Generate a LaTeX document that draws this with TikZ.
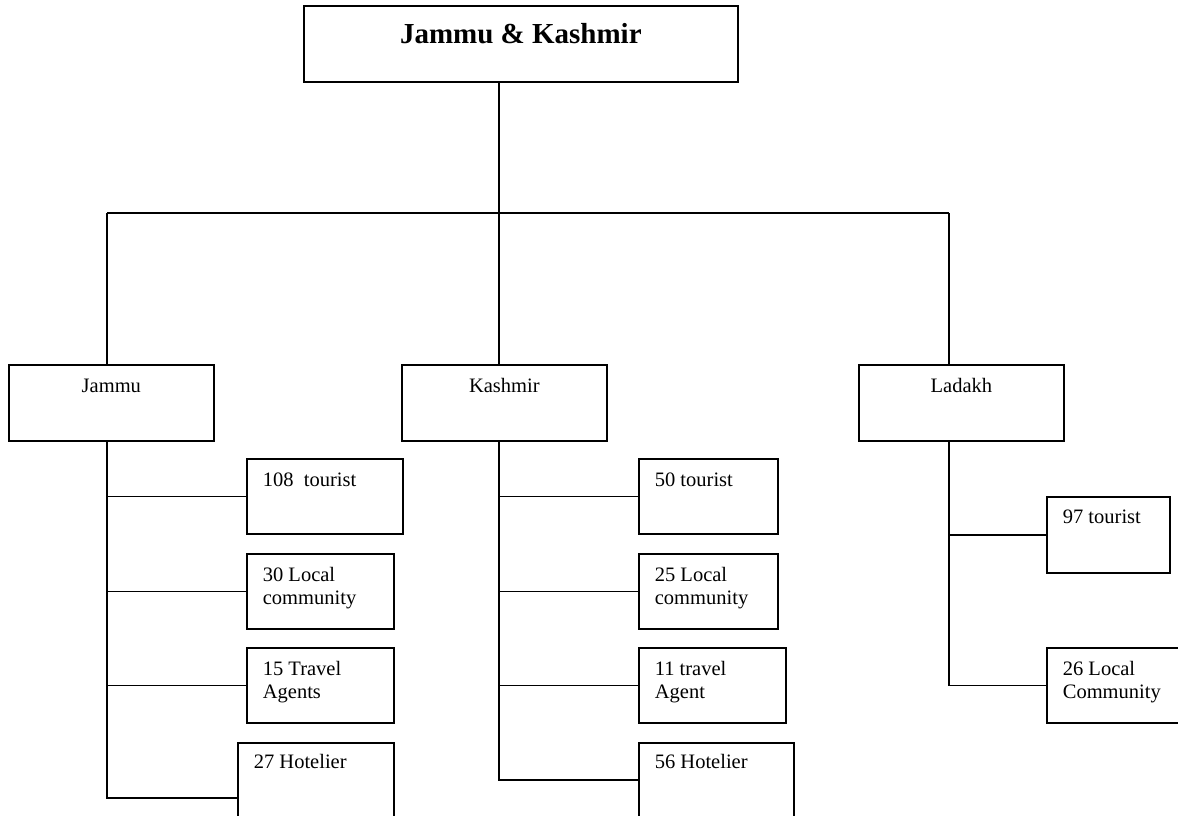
\documentclass[tikz,border=0pt]{standalone}
\usepackage{fontspec}
\setmainfont{Liberation Serif}
\usetikzlibrary{calc}
\begin{document}
\begin{tikzpicture}[x=1pt,y=-1pt,line width=1.7pt,
  frame/.style={draw,rectangle,inner sep=0pt,anchor=north west},
  txt/.style={anchor=base west,inner sep=0pt,font=\fontsize{20.5}{23}\selectfont},
  ctxt/.style={anchor=base,inner sep=0pt,font=\fontsize{20.5}{23}\selectfont},
  ttxt/.style={anchor=base,inner sep=0pt,font=\fontsize{29}{34}\selectfont\bfseries}]
\useasboundingbox (0,0) rectangle (1178,815);
\clip (0,0) rectangle (1178,815);
% top
\node[frame,minimum width=434pt,minimum height=76pt] (top) at (303,5) {};
\node[ttxt] (toptext) at ($(top.north)+(0,38)$) {Jammu \& Kashmir};
% level 1
\node[frame,minimum width=205pt,minimum height=76pt] (jammu) at (8,364) {};
\node[ctxt] (jammutext) at ($(jammu.north)+(0,28)$) {Jammu};
\node[frame,minimum width=205pt,minimum height=76pt] (kashmir) at (401,364) {};
\node[ctxt] (kashmirtext) at ($(kashmir.north)+(0,28)$) {Kashmir};
\node[frame,minimum width=205pt,minimum height=76pt] (ladakh) at (858,364) {};
\node[ctxt] (ladakhtext) at ($(ladakh.north)+(0,28)$) {Ladakh};
% Jammu children
\node[frame,minimum width=156pt,minimum height=75pt] (j1) at (246,458) {};
\node[txt] (j1t) at ($(j1.north west)+(16,28)$) {108~~tourist};
\node[frame,minimum width=147pt,minimum height=75pt] (j2) at (246,553) {};
\node[txt] (j2t) at ($(j2.north west)+(16,28)$) {\begin{tabular}[t]{@{}l@{}}30 Local\\community\end{tabular}};
\node[frame,minimum width=147pt,minimum height=75pt] (j3) at (246,647) {};
\node[txt] (j3t) at ($(j3.north west)+(16,28)$) {\begin{tabular}[t]{@{}l@{}}15 Travel\\Agents\end{tabular}};
\node[frame,minimum width=156pt,minimum height=110pt] (j4) at (237,742) {};
\node[txt] (j4t) at ($(j4.north west)+(16,26)$) {27 Hotelier};
% Kashmir children
\node[frame,minimum width=139pt,minimum height=75pt] (k1) at (638,458) {};
\node[txt] (k1t) at ($(k1.north west)+(16,28)$) {50 tourist};
\node[frame,minimum width=139pt,minimum height=75pt] (k2) at (638,553) {};
\node[txt] (k2t) at ($(k2.north west)+(16,28)$) {\begin{tabular}[t]{@{}l@{}}25 Local\\community\end{tabular}};
\node[frame,minimum width=147pt,minimum height=75pt] (k3) at (638,647) {};
\node[txt] (k3t) at ($(k3.north west)+(16,28)$) {\begin{tabular}[t]{@{}l@{}}11 travel\\Agent\end{tabular}};
\node[frame,minimum width=155pt,minimum height=74pt] (k4) at (638,742) {};
\node[txt] (k4t) at ($(k4.north west)+(16,26)$) {56 Hotelier};
% Ladakh children
\node[frame,minimum width=123pt,minimum height=76pt] (l1) at (1046,496) {};
\node[txt] (l1t) at ($(l1.north west)+(16,27)$) {97 tourist};
\node[frame,minimum width=150pt,minimum height=75pt] (l2) at (1046,647) {};
\node[txt] (l2t) at ($(l2.north west)+(16,28)$) {\begin{tabular}[t]{@{}l@{}}26 Local\\Community\end{tabular}};
% bus coordinates
\coordinate (jx) at (107,213);
\coordinate (kx) at (499,213);
\coordinate (lx) at (949,213);
% connectors
\draw (top.south -| kx) -- (kx);
\draw (jx) -- (lx);
\draw (jx) -- (jammu.north -| jx);
\draw (kx) -- (kashmir.north -| kx);
\draw (lx) -- (ladakh.north -| lx);
\draw (jammu.south -| jx) |- (j4.west);
\draw (j1.west -| jx) -- (j1.west);
\draw (j2.west -| jx) -- (j2.west);
\draw (j3.west -| jx) -- (j3.west);
\draw (kashmir.south -| kx) |- (k4.west);
\draw (k1.west -| kx) -- (k1.west);
\draw (k2.west -| kx) -- (k2.west);
\draw (k3.west -| kx) -- (k3.west);
\draw (ladakh.south -| lx) |- (l2.west);
\draw (l1.west -| lx) -- (l1.west);
\end{tikzpicture}
\end{document}
